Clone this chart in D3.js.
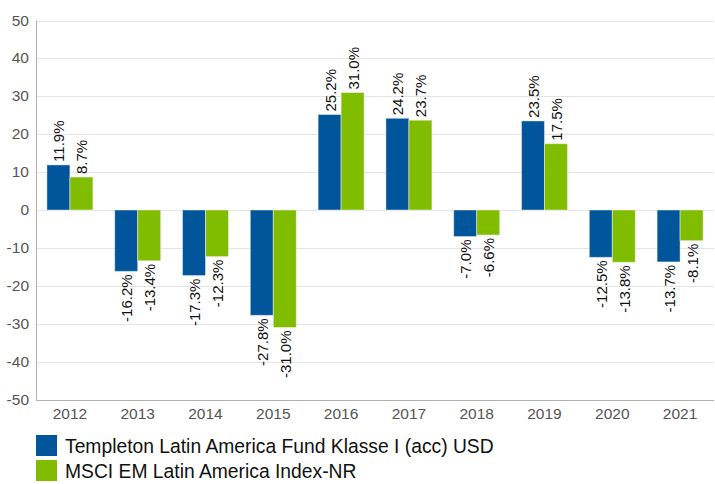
<!DOCTYPE html>
<html>
<head>
<meta charset="utf-8">
<script src="https://cdn.jsdelivr.net/npm/d3@7"></script>
<style>
  body { margin: 0; background: #fff; }
  svg { font-family: Arial, "Liberation Sans", sans-serif; }
</style>
</head>
<body>
<svg width="715" height="484"></svg>
<script>
var years = ["2012", "2013", "2014", "2015", "2016", "2017", "2018", "2019", "2020", "2021"];
var fund = [11.9, -16.2, -17.3, -27.8, 25.2, 24.2, -7.0, 23.5, -12.5, -13.7];
var index = [8.7, -13.4, -12.3, -31.0, 31.0, 23.7, -6.6, 17.5, -13.8, -8.1];
var seriesNames = ["Templeton Latin America Fund Klasse I (acc) USD", "MSCI EM Latin America Index-NR"];
var colors = ["#00559b", "#80bc00"];
var yTicks = [50, 40, 30, 20, 10, 0, -10, -20, -30, -40, -50];

var svg = d3.select("svg");
var plotLeft = 36, plotRight = 714, plotTop = 20.5, plotBottom = 399.5;

var x = d3.scaleBand().domain(years).range([plotLeft, plotRight]);
var y = d3.scaleLinear().domain([-50, 50]).range([plotBottom, plotTop]);
var barW = 23;

// grid
svg.selectAll("line.grid")
  .data(yTicks)
  .enter()
  .append("line")
  .attr("class", "grid")
  .attr("x1", plotLeft).attr("x2", plotRight)
  .attr("y1", function (d) { return Math.round(y(d)) + 0.5; })
  .attr("y2", function (d) { return Math.round(y(d)) + 0.5; })
  .style("stroke", "#e4e4e4");

// y labels
svg.selectAll("text.ytick")
  .data(yTicks)
  .enter()
  .append("text")
  .attr("class", "ytick")
  .attr("x", plotLeft - 7)
  .attr("y", function (d) { return y(d) + 5; })
  .style("text-anchor", "end")
  .style("font-size", "15.5px")
  .style("fill", "#555")
  .text(function (d) { return d; });

// axes lines
svg.append("line")
  .attr("x1", plotLeft + 0.5).attr("x2", plotLeft + 0.5)
  .attr("y1", plotTop).attr("y2", plotBottom)
  .style("stroke", "#b0b0b0");
svg.append("line")
  .attr("x1", plotLeft).attr("x2", plotRight)
  .attr("y1", Math.round(plotBottom) + 0.5).attr("y2", Math.round(plotBottom) + 0.5)
  .style("stroke", "#b0b0b0");

// x labels
svg.selectAll("text.xtick")
  .data(years)
  .enter()
  .append("text")
  .attr("class", "xtick")
  .attr("x", function (d) { return x(d) + x.bandwidth() / 2; })
  .attr("y", plotBottom + 19)
  .style("text-anchor", "middle")
  .style("font-size", "15.5px")
  .style("fill", "#555")
  .text(function (d) { return d; });

var bars = [];
years.forEach(function (yr, i) {
  bars.push({ year: yr, s: 0, v: fund[i] });
  bars.push({ year: yr, s: 1, v: index[i] });
});

function barX(d) {
  return x(d.year) + x.bandwidth() / 2 - barW + d.s * barW;
}

svg.selectAll("rect.bar")
  .data(bars)
  .enter()
  .append("rect")
  .attr("class", "bar")
  .attr("x", function (d) { return barX(d); })
  .attr("width", barW)
  .attr("y", function (d) { return y(Math.max(0, d.v)); })
  .attr("height", function (d) { return Math.abs(y(d.v) - y(0)); })
  .style("fill", function (d) { return colors[d.s]; })
  .style("stroke", "rgba(255,255,255,0.45)")
  .style("stroke-width", 1);

svg.selectAll("text.val")
  .data(bars)
  .enter()
  .append("text")
  .attr("class", "val")
  .attr("transform", function (d) {
    var cx = barX(d) + barW / 2 + 6;
    var cy = d.v >= 0 ? y(d.v) - 3 : y(d.v) + 3;
    return "translate(" + cx + "," + cy + ") rotate(-90)";
  })
  .style("text-anchor", function (d) { return d.v >= 0 ? "start" : "end"; })
  .style("font-size", "15px")
  .style("fill", "#111")
  .text(function (d) { return d.v.toFixed(1) + "%"; });

// legend
var leg = svg.selectAll("g.legend")
  .data(seriesNames)
  .enter()
  .append("g")
  .attr("class", "legend")
  .attr("transform", function (d, i) { return "translate(36," + (435 + i * 25) + ")"; });
leg.append("rect")
  .attr("width", 21).attr("height", 21)
  .style("fill", function (d, i) { return colors[i]; });
leg.append("text")
  .attr("x", 29).attr("y", 18)
  .style("font-size", "19.3px")
  .style("fill", "#111")
  .text(function (d) { return d; });
</script>
</body>
</html>
